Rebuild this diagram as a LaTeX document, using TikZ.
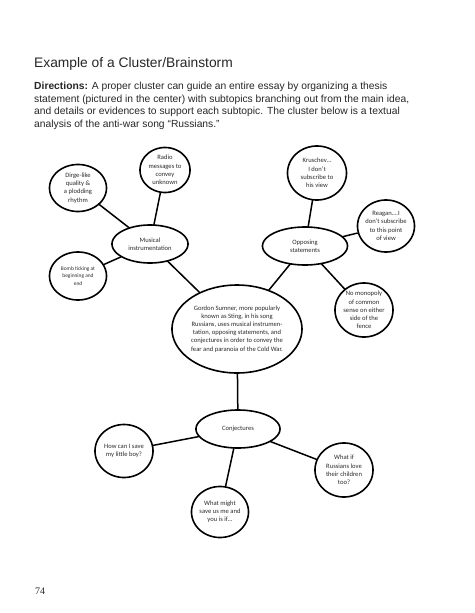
\documentclass[tikz,border=0pt]{standalone}
\usepackage{fontspec}
\setmainfont{Liberation Sans}
\newfontfamily\bubblefont{Carlito}
\newfontfamily\pagefont{Liberation Serif}
\usepackage{xcolor}
\usetikzlibrary{shapes,positioning}
\definecolor{inkgray}{HTML}{2A2A2A}

\begin{document}
\begin{tikzpicture}[x = 1pt, y = -1pt,
  idea/.style = {ellipse, inner sep = 0pt, align = center, text = inkgray,
    font = {\bubblefont\fontsize{6.6}{8.2}\selectfont}},
  rim/.style = {line width = 1.6pt, line join = round},
  link/.style = {line width = 1.5pt}]
\useasboundingbox (0,0) rectangle (474,613);
% heading and directions
\node[anchor = base west, inner sep = 0pt, font = {\fontsize{13.8}{16}\selectfont}, text = black!85] (title) at (34,67) {Example of a Cluster/Brainstorm};
\node[anchor = north west, align = left, inner sep = 0pt, font = {\fontsize{10.3}{12.5}\selectfont}, text = black!85] (dirs) at (34,82)
  {\textbf{Directions:} A proper cluster can guide an entire essay by organizing a thesis\\
   statement (pictured in the center) with subtopics branching out from the main idea,\\
   and details or evidences to support each subtopic. The cluster below is a textual\\
   analysis of the anti-war song “Russians.”};
% thesis and subtopics
\node[idea, minimum width = 130, minimum height = 88] (core) at (237,329)
  {\makebox[88pt]{\begin{tabular}{@{}c@{}}Gordon Sumner, more popularly\\known as Sting, in his song\\Russians, uses musical instrumen-\\tation, opposing statements, and\\conjectures in order to convey the\\fear and paranoia of the Cold War.\end{tabular}}};
\node[idea, minimum width = 76, minimum height = 38] (mus) at (150,244) {Musical\\instrumentation};
\node[idea, minimum width = 85, minimum height = 38] (opp) at (305,246) {Opposing\\statements};
\node[idea, minimum width = 84, minimum height = 38] (conj) at (238,429) {Conjectures};
% details
\node[idea, minimum width = 57, minimum height = 47] (dirge) at (78,188) {Dirge-like\\quality \&\\a plodding\\rhythm};
\node[idea, minimum width = 50, minimum height = 45] (radio) at (165,170) {Radio\\messages to\\convey\\unknown};
\node[idea, minimum width = 57, minimum height = 48, font = {\bubblefont\fontsize{5.4}{7.4}\selectfont}] (bomb) at (78,276) {Bomb ticking at\\beginning and\\end};
\node[idea, minimum width = 59, minimum height = 54] (krus) at (317,173) {Kruschev…\\I don’t\\subscribe to\\his view};
\node[idea, minimum width = 57, minimum height = 52] (reagan) at (386,226) {Reagan….I\\don’t subscribe\\to this point\\of view};
\node[idea, minimum width = 58, minimum height = 54] (mono) at (364,310) {No monopoly\\of common\\sense on either\\side of the\\fence};
\node[idea, minimum width = 58, minimum height = 53] (save) at (124,451) {How can I save\\my little boy?};
\node[idea, minimum width = 57, minimum height = 51] (might) at (220,512) {What might\\save us me and\\you is if…};
\node[idea, minimum width = 58, minimum height = 54] (love) at (344,470) {What if\\Russians love\\their children\\too?};
% outlines
\foreach \n/\rx/\ry in {core/65/44, mus/38/19, opp/42.5/19, conj/42/19, dirge/28.5/23.5, radio/25/22.5,
    bomb/28.5/24, krus/29.5/27, reagan/28.5/26, mono/29/27, save/29/26.5, might/28.5/25.5, love/29/27}
  \draw[rim, shift = {(\n.center)}] plot[domain = 0:360, samples = 90, variable = \t] ({\rx*cos(\t)}, {\ry*sin(\t)}) -- cycle;
% branches
\draw[link] (core) -- (mus);
\draw[link] (core) -- (opp);
\draw[link] (core) -- (conj);
\draw[link] (mus) -- (dirge);
\draw[link] (mus) -- (radio);
\draw[link] (mus) -- (bomb);
\draw[link] (opp) -- (krus);
\draw[link] (opp) -- (reagan);
\draw[link] (opp) -- (mono);
\draw[link] (conj) -- (save);
\draw[link] (conj) -- (might);
\draw[link] (conj) -- (love);
% page number
\node[font = {\pagefont\fontsize{10}{12}\selectfont}, text = inkgray] (pagenum) at (40,591) {74};
\end{tikzpicture}
\end{document}
